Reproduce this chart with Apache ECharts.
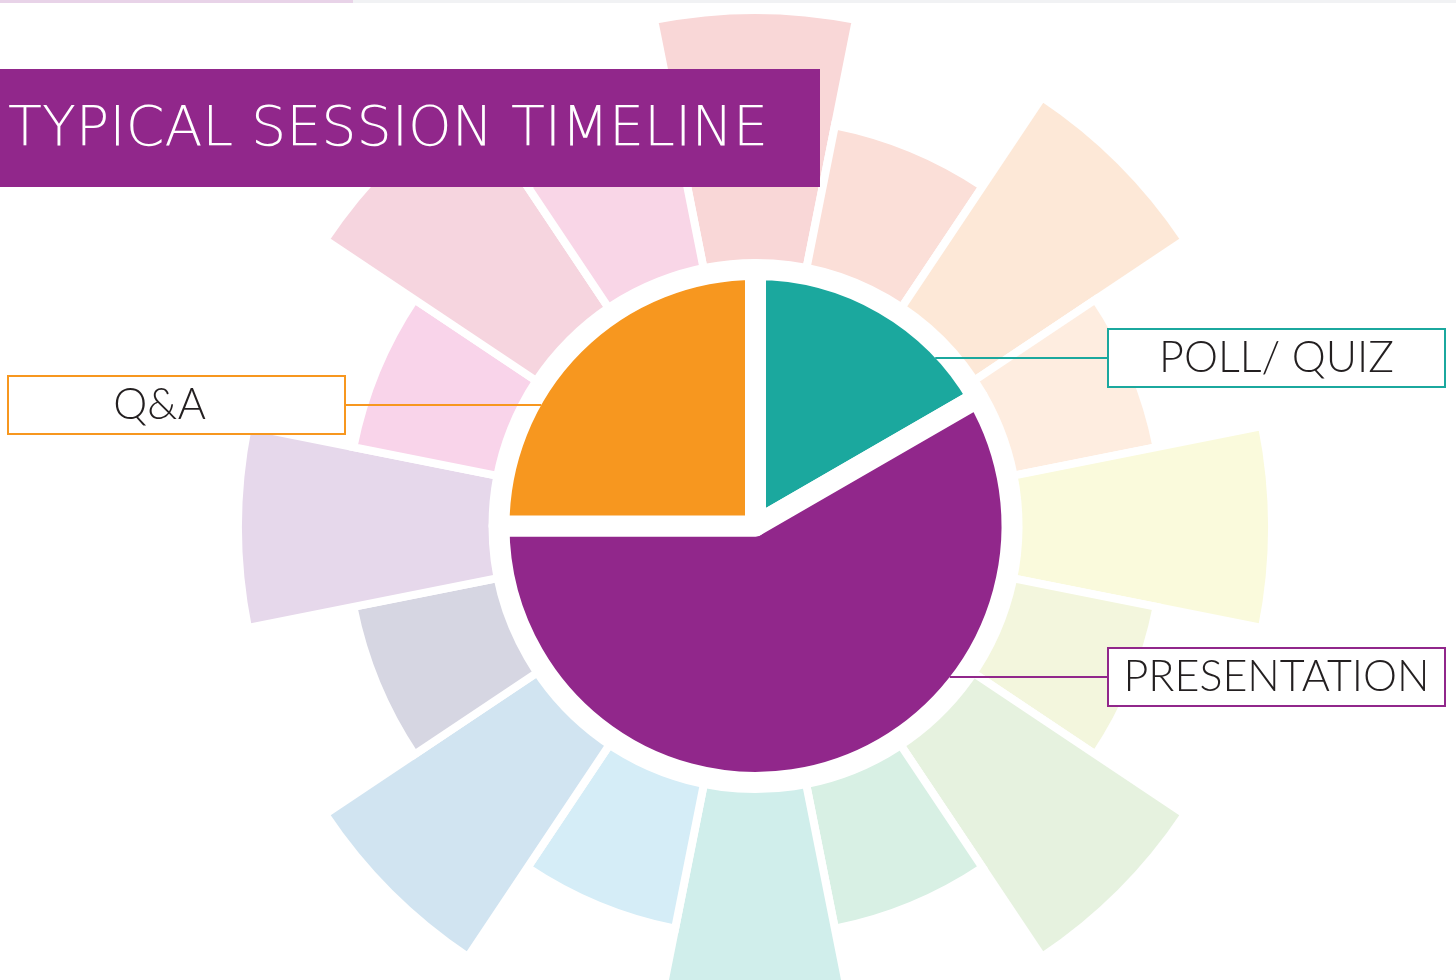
<!DOCTYPE html>
<html>
<head>
<meta charset="utf-8">
<script src="https://cdn.jsdelivr.net/npm/echarts@6/dist/echarts.min.js"></script>
<style>
  html, body { margin: 0; padding: 0; background: #ffffff; }
  #chart { width: 1456px; height: 980px; }
</style>
</head>
<body>
<div id="chart"></div>
<script>
// ---- data ----
const titleText = 'TYPICAL SESSION TIMELINE';
const sessionParts = ['POLL/ QUIZ', 'PRESENTATION', 'Q&A'];
const sessionMinutes = [10, 35, 15];
const sessionColors = ['#1ba89e', '#91278b', '#f7971f'];

// decorative colour wheel, clockwise from the top
const wheelSlots = ['w1', 'w2', 'w3', 'w4', 'w5', 'w6', 'w7', 'w8', 'w9', 'w10', 'w11', 'w12', 'w13', 'w14', 'w15', 'w16'];
const wheelLengths = [10, 5.8, 10, 5.8, 10, 5.8, 10, 5.8, 10, 5.8, 10, 5.8, 10, 5.8, 10, 5.8];
const wheelColors = ['#f9d7d7', '#fbdfd8', '#fde8d7', '#feede0', '#fafadc', '#f3f6dd', '#e6f2df', '#d8f0e4',
                     '#d0eeeb', '#d5edf7', '#d1e4f1', '#d6d6e2', '#e6d8eb', '#f9d4ea', '#f6d5df', '#f9d6e7'];

// ---- layout ----
const PIE_C = [755.5, 526];
const PIE_R = 256.5;
const PIE_BORDER = 21;
const PIE_VISIBLE_R = PIE_R - PIE_BORDER / 2;
const BOX_W = 335, BOX_H = 56;
const labelBoxes = {
  'POLL/ QUIZ':   { x: 1276.5, y: 358, side: 'right', shift: 0 },
  'PRESENTATION': { x: 1276.5, y: 677, side: 'right', shift: 0 },
  'Q&A':          { x: 176.5,  y: 405, side: 'left',  shift: 34 }
};

const FONT = 'Lato, "Open Sans", "Noto Sans", sans-serif';

// leader lines from the pie edge to each label box
const leaderLines = sessionParts.map((name, i) => {
  const b = labelBoxes[name];
  const dy = b.y - PIE_C[1];
  const dx = Math.sqrt(Math.max(0, PIE_VISIBLE_R * PIE_VISIBLE_R - dy * dy));
  const edgeX = b.side === 'right' ? PIE_C[0] + dx : PIE_C[0] - dx;
  const boxEdge = b.side === 'right' ? b.x - (BOX_W + 2) / 2 : b.x + (BOX_W + 2) / 2;
  return {
    type: 'line',
    z: 50,
    silent: true,
    shape: { x1: edgeX, y1: b.y, x2: boxEdge, y2: b.y },
    style: { stroke: sessionColors[i], lineWidth: 2 }
  };
});

const chart = echarts.init(document.getElementById('chart'), null, { renderer: 'canvas' });

const option = {
  animation: false,
  backgroundColor: '#ffffff',
  title: {
    text: titleText,
    left: 0,
    top: 69,
    z: 60,
    padding: [32, 0, 26, 8],
    textStyle: {
      color: '#ffffff',
      fontFamily: '"DejaVu Sans", Lato, sans-serif',
      fontWeight: 200,
      fontSize: 55.5,
      lineHeight: 60
    }
  },
  graphic: [
    { type: 'rect', left: 0, top: 0, z: 40, shape: { width: 353, height: 3 }, style: { fill: '#e8d3e8' } },
    { type: 'rect', left: 353, top: 0, z: 40, shape: { width: 1103, height: 3 }, style: { fill: '#f1f2f4' } },
    { type: 'rect', left: 0, top: 69, z: 40, shape: { width: 820, height: 118 }, style: { fill: '#91278b' } }
  ].concat(leaderLines),
  polar: { center: [755, 527], radius: [261, 517] },
  angleAxis: {
    type: 'category',
    data: wheelSlots,
    startAngle: 101.25,
    clockwise: true,
    axisLine: { show: false },
    axisTick: { show: false },
    axisLabel: { show: false },
    splitLine: { show: false }
  },
  radiusAxis: {
    type: 'value',
    min: 0,
    max: 10,
    axisLine: { show: false },
    axisTick: { show: false },
    axisLabel: { show: false },
    splitLine: { show: false }
  },
  series: [
    {
      type: 'bar',
      name: 'wheel',
      coordinateSystem: 'polar',
      z: 1,
      silent: true,
      barCategoryGap: '0%',
      itemStyle: { borderColor: '#ffffff', borderWidth: 8 },
      data: wheelLengths.map((v, i) => ({ value: v, itemStyle: { color: wheelColors[i] } }))
    },
    {
      type: 'pie',
      name: 'session',
      z: 2,
      silent: true,
      center: PIE_C,
      radius: PIE_R,
      startAngle: 90,
      clockwise: true,
      avoidLabelOverlap: false,
      itemStyle: { borderColor: '#ffffff', borderWidth: PIE_BORDER },
      label: {
        show: true,
        position: 'outside',
        formatter: '{b}',
        color: '#231f20',
        fontFamily: FONT,
        fontWeight: 300,
        fontSize: 43,
        backgroundColor: '#ffffff',
        borderWidth: 2,
        height: BOX_H - 3,
        lineHeight: BOX_H - 3,
        align: 'center',
        verticalAlign: 'middle'
      },
      labelLine: { show: false },
      labelLayout: function (params) {
        const b = labelBoxes[sessionParts[params.dataIndex]];
        return { x: b.x, y: b.y, align: 'center', verticalAlign: 'middle' };
      },
      data: sessionParts.map((n, i) => {
        const shift = labelBoxes[n].shift;
        return {
          name: n,
          value: sessionMinutes[i],
          itemStyle: { color: sessionColors[i] },
          label: {
            borderColor: sessionColors[i],
            width: BOX_W - shift,
            padding: [3, shift, 0, 0]
          }
        };
      })
    }
  ]
};

chart.setOption(option);
</script>
</body>
</html>
